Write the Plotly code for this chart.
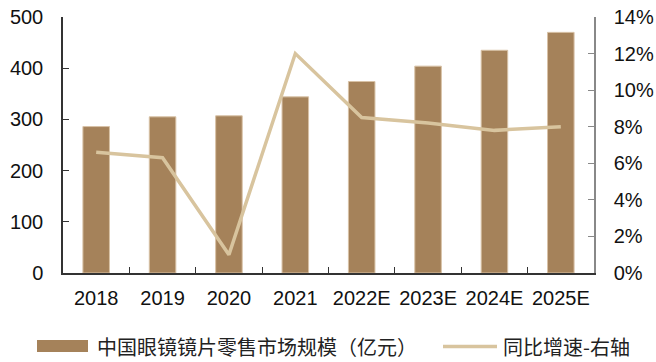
import plotly.graph_objects as go

# Market size of eyeglass lenses retail in China and YoY growth
years = ["2018", "2019", "2020", "2021", "2022E", "2023E", "2024E", "2025E"]
market_size = [286, 305, 307, 344, 374, 404, 435, 470]          # 亿元
yoy_growth = [0.066, 0.063, 0.010, 0.120, 0.085, 0.082, 0.078, 0.080]

bar_name = "中国眼镜镜片零售市场规模（亿元）"
line_name = "同比增速-右轴"

BAR_COLOR = "#A5825A"
LINE_COLOR = "#D8C49E"
TICK_FONT = dict(family="Liberation Sans, Arial, sans-serif", size=20, color="#111111")
CJK_FONT = dict(family="Noto Sans CJK SC, sans-serif", size=20, color="#222222")

fig = go.Figure()
fig.add_trace(go.Bar(
    x=years, y=market_size, name=bar_name,
    marker=dict(color=BAR_COLOR, line=dict(color="#D8C2A6", width=1)),
    showlegend=False,
))
fig.add_trace(go.Scatter(
    x=years, y=yoy_growth, name=line_name, yaxis="y2", mode="lines",
    line=dict(color=LINE_COLOR, width=3.5),
    showlegend=False,
))

# Legend drawn below the plot
fig.add_shape(type="rect", xref="paper", yref="paper",
              x0=(37 - 63) / 531, x1=(88 - 63) / 531,
              y0=(273 - 352) / 256, y1=(273 - 340) / 256,
              fillcolor=BAR_COLOR, line=dict(width=0))
fig.add_annotation(xref="paper", yref="paper", x=(95 - 63) / 531, y=(273 - 346) / 256,
                   text=bar_name, showarrow=False, xanchor="left", yanchor="middle",
                   font=CJK_FONT)
fig.add_shape(type="line", xref="paper", yref="paper",
              x0=(443 - 63) / 531, x1=(497 - 63) / 531,
              y0=(273 - 346.5) / 256, y1=(273 - 346.5) / 256,
              line=dict(color=LINE_COLOR, width=3.5))
fig.add_annotation(xref="paper", yref="paper", x=(501 - 63) / 531, y=(273 - 346) / 256,
                   text=line_name, showarrow=False, xanchor="left", yanchor="middle",
                   font=CJK_FONT)

fig.update_layout(
    width=656, height=362,
    margin=dict(l=63, r=62, t=17, b=89, autoexpand=False),
    paper_bgcolor="white", plot_bgcolor="white",
    bargap=0.6,
    xaxis=dict(
        showline=True, linecolor="#333333", linewidth=1.5,
        ticks="inside", tickson="boundaries", ticklen=6, tickcolor="#333333",
        tickfont=TICK_FONT, showgrid=False, ticklabelstandoff=6, tickangle=0,
        automargin=False,
    ),
    yaxis=dict(
        range=[0, 500], dtick=100, showline=True, linecolor="#333333", linewidth=1.5,
        ticks="inside", ticklen=6, tickcolor="#333333", tickfont=TICK_FONT,
        showgrid=False, zeroline=False, ticklabelstandoff=14, automargin=False,
    ),
    yaxis2=dict(
        range=[0, 0.14], dtick=0.02, tickformat=".0%", overlaying="y", side="right",
        showline=True, linecolor="#888888", linewidth=1.5,
        ticks="inside", ticklen=6, tickcolor="#888888", tickfont=TICK_FONT,
        showgrid=False, zeroline=False, ticklabelstandoff=14, automargin=False,
    ),
)

fig.write_html("out.html")
